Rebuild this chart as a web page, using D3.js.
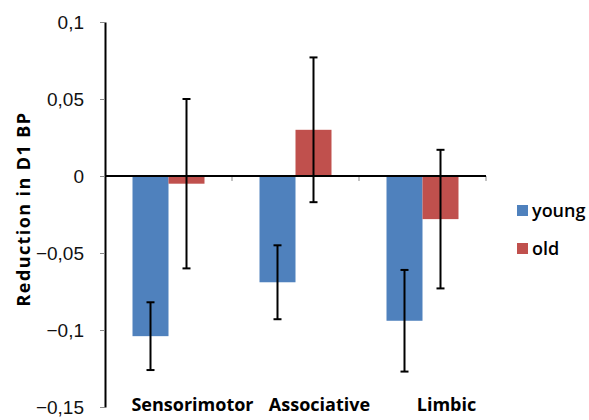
<!DOCTYPE html>
<html>
<head>
<meta charset="utf-8">
<script src="https://cdn.jsdelivr.net/npm/d3@7"></script>
<style>
  body { margin: 0; background: #fff; }
  svg { display: block; }
</style>
</head>
<body>
<svg width="589" height="420"></svg>
<script>
// data
const categories = ["Sensorimotor", "Associative", "Limbic"];
const series = ["young", "old"];
const youngValues = [-0.104, -0.069, -0.094];
const oldValues = [-0.005, 0.030, -0.028];
const youngErrors = [0.022, 0.024, 0.033];
const oldErrors = [0.055, 0.047, 0.045];
const yTicks = [0.1, 0.05, 0, -0.05, -0.1, -0.15];
const colors = ["#4f81bd", "#c0504d"];

const svg = d3.select("svg");
const margin = { left: 105, right: 486, top: 22, bottom: 407 };

const y = d3.scaleLinear().domain([-0.15, 0.1]).range([margin.bottom, margin.top]);
const x0 = d3.scaleBand().domain(categories).range([margin.left, margin.right]);
const x1 = d3.scaleBand().domain(series)
    .range([0, x0.bandwidth()])
    .paddingOuter(0.764);
const color = d3.scaleOrdinal().domain(series).range(colors);

const rows = categories.map((c, i) => ({
    cat: c,
    values: [
        { s: "young", v: youngValues[i], e: youngErrors[i] },
        { s: "old", v: oldValues[i], e: oldErrors[i] }
    ]
}));

// bars
const groups = svg.append("g").selectAll("g")
    .data(rows)
    .join("g")
    .attr("transform", d => `translate(${x0(d.cat)},0)`);

groups.selectAll("rect")
    .data(d => d.values)
    .join("rect")
    .attr("x", d => x1(d.s))
    .attr("width", x1.bandwidth())
    .attr("y", d => y(Math.max(0, d.v)))
    .attr("height", d => Math.abs(y(d.v) - y(0)))
    .attr("fill", d => color(d.s));

// y axis
const yAxis = svg.append("g")
    .attr("transform", `translate(${margin.left},0)`)
    .call(d3.axisLeft(y).tickValues(yTicks).tickSize(5).tickSizeOuter(0)
        .tickFormat(d => d3.format("")(d).replace(".", ",")));
yAxis.select(".domain").attr("stroke", "#000").attr("stroke-width", 2);
yAxis.selectAll(".tick line").attr("stroke", "#888");
yAxis.selectAll(".tick text")
    .attr("x", -21)
    .attr("dy", "0.36em")
    .style("font-family", "'Liberation Sans', Arial, sans-serif")
    .style("font-size", "19px")
    .attr("fill", "#111");

// zero line with category ticks
const xAxis = svg.append("g")
    .attr("transform", `translate(0,${y(0)})`);
xAxis.selectAll("line.tk")
    .data(categories)
    .join("line")
    .attr("class", "tk")
    .attr("x1", d => x0(d) + x0.bandwidth())
    .attr("x2", d => x0(d) + x0.bandwidth())
    .attr("y1", 0).attr("y2", 5)
    .attr("stroke", "#888");
xAxis.append("line")
    .attr("x1", margin.left).attr("x2", margin.right)
    .attr("stroke", "#000").attr("stroke-width", 2);

// error bars
const errs = groups.selectAll("g.err")
    .data(d => d.values)
    .join("g")
    .attr("class", "err")
    .attr("transform", d => `translate(${x1(d.s) + x1.bandwidth() / 2},0)`);
errs.append("line")
    .attr("y1", d => y(d.v + d.e)).attr("y2", d => y(d.v - d.e))
    .attr("stroke", "#000").attr("stroke-width", 2);
errs.append("line")
    .attr("x1", -4).attr("x2", 4)
    .attr("y1", d => y(d.v + d.e)).attr("y2", d => y(d.v + d.e))
    .attr("stroke", "#000").attr("stroke-width", 2);
errs.append("line")
    .attr("x1", -4).attr("x2", 4)
    .attr("y1", d => y(d.v - d.e)).attr("y2", d => y(d.v - d.e))
    .attr("stroke", "#000").attr("stroke-width", 2);

// category labels
svg.append("g").selectAll("text")
    .data(categories)
    .join("text")
    .attr("x", d => x0(d) + x0.bandwidth() / 2 + 24)
    .attr("y", 411)
    .attr("text-anchor", "middle")
    .style("font-family", "'Open Sans', sans-serif")
    .style("font-weight", "bold")
    .style("font-size", "18px")
    .text(d => d);

// y title
svg.append("text")
    .attr("transform", "translate(30,209) rotate(-90)")
    .attr("text-anchor", "middle")
    .style("font-family", "'Open Sans', sans-serif")
    .style("font-weight", "bold")
    .style("font-size", "18px")
    .style("letter-spacing", "1.4px")
    .text("Reduction in D1 BP");

// legend
const legend = svg.append("g").selectAll("g")
    .data(series)
    .join("g")
    .attr("transform", (d, i) => `translate(517,${205 + i * 38})`);
legend.append("rect")
    .attr("width", 11).attr("height", 11)
    .attr("fill", d => color(d));
legend.append("text")
    .attr("x", 15).attr("y", 12)
    .style("font-family", "'Open Sans', sans-serif")
    .style("font-weight", 600)
    .style("font-size", "18px")
    .text(d => d);
</script>
</body>
</html>
